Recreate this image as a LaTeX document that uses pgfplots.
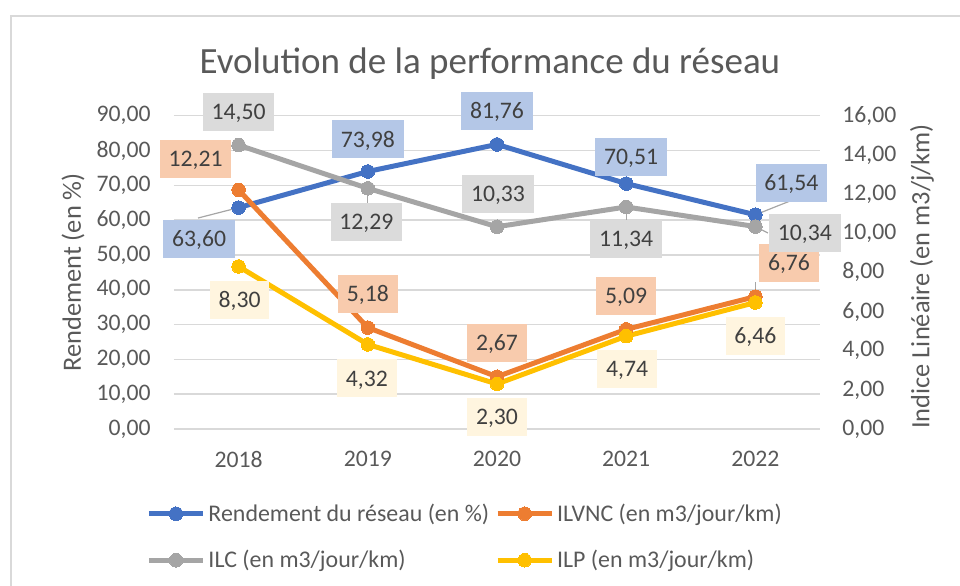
\documentclass[border=0pt]{standalone}
\usepackage{fontspec}
\setmainfont{Carlito}
\usepackage{pgfplots}
\pgfplotsset{compat=1.18}
\usepackage{pgfplotstable}

\definecolor{cBlue}{HTML}{4472C4}
\definecolor{cOrange}{HTML}{ED7D31}
\definecolor{cGray}{HTML}{A5A5A5}
\definecolor{cYellow}{HTML}{FFC000}
\definecolor{cBlueL}{HTML}{B4C7E7}
\definecolor{cOrangeL}{HTML}{F8CBAD}
\definecolor{cGrayL}{HTML}{DBDBDB}
\definecolor{cYellowL}{HTML}{FFF5DF}
\definecolor{cTxt}{HTML}{404040}
\definecolor{cTick}{HTML}{595959}
\definecolor{cGrid}{HTML}{D9D9D9}
\definecolor{cLead}{HTML}{A6A6A6}

\newcommand\tickfont{\fontsize{11.85}{14}\selectfont}
\newcommand\legfont{\fontsize{11.95}{14}\selectfont}
\newcommand\titlefont{\fontsize{18.5}{22}\selectfont}
\newcommand\labfont{\fontsize{13.2}{16}\selectfont}

\pgfplotstableread{
x y lab
0 63.60 63,60
1 73.98 73,98
2 81.76 81,76
3 70.51 70,51
4 61.54 61,54
}\tRend

\pgfplotstableread{
x y lab
0 12.21 12,21
1 5.18 5,18
2 2.67 2,67
3 5.09 5,09
4 6.76 6,76
}\tILVNC

\pgfplotstableread{
x y lab
0 14.50 14,50
1 12.29 12,29
2 10.33 10,33
3 11.34 11,34
4 10.34 10,34
}\tILC

\pgfplotstableread{
x y lab
0 8.30 8,30
1 4.32 4,32
2 2.30 2,30
3 4.74 4,74
4 6.46 6,46
}\tILP

\pgfplotsset{
  ser/.style={color=#1, line width=2.5pt, mark=*, mark size=3.4pt, mark options={solid, fill=#1, draw=#1, line width=0pt}},
  lbl/.style n args={3}{draw=none, mark=none, forget plot, point meta=explicit symbolic,
    visualization depends on={x\as\xi},
    nodes near coords,
    nodes near coords style={fill=#1, text=cTxt, font=\tickfont, inner xsep=4.4pt, inner ysep=0pt,
      minimum height=19pt, text height=7.6pt, text depth=0pt, anchor=center,
      xshift={{#2}[round(\xi)]*0.5pt}, yshift={{#3}[round(\xi)]*0.5pt}},
  },
  lead/.style={cLead, line width=0.6pt, forget plot, mark=none},
  base/.style={
    scale only axis, width=323pt, height=156.65pt,
    at={(87pt,78pt)}, anchor=south west,
    xmin=-0.5, xmax=4.5, clip=false,
    axis line style={draw=none}, major tick length=0pt,
    tick label style={font=\tickfont, text=cTick},
    /pgf/number format/assume math mode=true,
    /pgf/number format/use comma,
    /pgf/number format/fixed,
    /pgf/number format/fixed zerofill,
    /pgf/number format/precision=2,
  },
}

\begin{document}
\begin{tikzpicture}
\useasboundingbox (0pt,0pt) rectangle (480pt,292.5pt);
\draw[cGrid, line width=0.8pt] (5.5pt,-10pt) -- (5.5pt,284.5pt) -- (495pt,284.5pt);

\begin{axis}[base,
  ymin=0, ymax=90, ytick={0,10,...,90},
  xtick={0,1,2,3,4}, xticklabels={2018,2019,2020,2021,2022},
  xticklabel style={anchor=north, inner sep=0pt, yshift=-11pt},
  yticklabel style={anchor=east, inner sep=0pt, xshift=-11.5pt},
  ymajorgrids, grid style={cGrid, line width=0.75pt},
  ylabel={Rendement (en \%)},
  every axis y label/.style={at={(axis description cs:-0.1563,0.5)}, rotate=90, anchor=center, font=\labfont, text=cTick},
  title={Evolution de la performance du réseau},
  title style={at={(axis description cs:0.489,1.098)}, anchor=base, font=\titlefont, text=cTick},
]
\addplot[lead] coordinates {(0,63.60) (-0.314,60.61)};
\addplot[lead] coordinates {(4,61.54) (4.268,65.50)};
\addplot[ser=cBlue] table[x=x,y=y]{\tRend};
\addplot[lbl={cBlueL}{-39.5,0,0,5,36}{-31,32,33.5,27,32}] table[x=x,y=y,meta=lab]{\tRend};
\end{axis}

\begin{axis}[base,
  ymin=0, ymax=16, ytick={0,2,...,16},
  xtick=\empty,
  yticklabel pos=right,
  yticklabel style={anchor=west, inner sep=0pt, xshift=11pt},
  ylabel={Indice Linéaire (en m3/j/km)},
  every axis y label/.style={at={(axis description cs:1.158,0.487)}, rotate=90, anchor=center, font=\labfont, text=cTick},
  legend columns=2,
  legend cell align=left,
  legend style={at={(axis description cs:-0.0432,-0.227)}, anchor=north west, draw=none, fill=none,
    inner xsep=0pt, inner ysep=0pt, font=\legfont, text=cTick, row sep=10pt,
    nodes={inner sep=1.5pt},
    /tikz/every even column/.append style={column sep=1.5pt}},
  legend image code/.code={\draw[mark repeat=2,mark phase=2,#1] plot coordinates {(0pt,0pt) (13.5pt,0pt) (27pt,0pt)};},
]
\addlegendimage{ser=cBlue}
\addlegendentry{Rendement du réseau (en \%)}
\addplot[lead] coordinates {(1,12.29) (1,11.54)};
\addplot[lead] coordinates {(3,11.34) (3,10.67)};
\addplot[lead] coordinates {(4,10.34) (4.097,10.01)};
\addplot[lead] coordinates {(4,6.76) (4,7.51)};
\addplot[ser=cOrange] table[x=x,y=y]{\tILVNC};
\addlegendentry{ILVNC (en m3/jour/km)}
\addplot[ser=cGray] table[x=x,y=y]{\tILC};
\addlegendentry{ILC (en m3/jour/km)}
\addplot[ser=cYellow] table[x=x,y=y]{\tILP};
\addlegendentry{ILP (en m3/jour/km)}
\addplot[lbl={cOrangeL}{-43,0,0,0,33.6}{31,33.6,33.7,33,33.6}] table[x=x,y=y,meta=lab]{\tILVNC};
\addplot[lbl={cGrayL}{0,-1.5,1,0,49.5}{33,-33.6,33,-32,-6.5}] table[x=x,y=y,meta=lab]{\tILC};
\addplot[lbl={cYellowL}{1,-1,0,1,0}{-33.5,-34,-33,-33,-33}] table[x=x,y=y,meta=lab]{\tILP};
\end{axis}
\end{tikzpicture}
\end{document}
